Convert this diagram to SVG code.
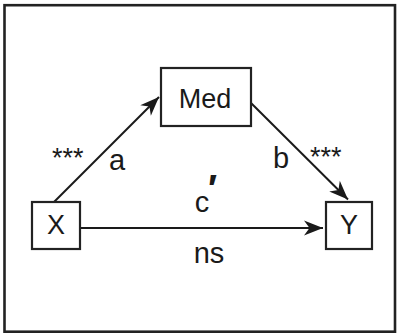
<svg xmlns="http://www.w3.org/2000/svg" width="397" height="333" viewBox="0 0 397 333">
<style>
.box{fill:#fff;stroke:#222;stroke-width:2.2}
.edge{stroke:#1a1a1a;stroke-width:2;fill:none}
.lbl{font-family:"Liberation Sans",Arial,sans-serif;fill:#1a1a1a}
.nl{font-size:27px;text-anchor:middle}
.el{font-size:29px;text-anchor:middle}
</style>
<defs>
<marker id="ah" markerUnits="userSpaceOnUse" markerWidth="24" markerHeight="20" viewBox="-20 -10 24 20" refX="0" refY="0" orient="auto">
<path d="M0,0 L-19,-7.5 L-13.5,0 L-19,7.5 Z" fill="#1a1a1a"/>
</marker>
</defs>
<rect x="4.5" y="5.2" width="390.5" height="326.5" fill="#fff" stroke="#222" stroke-width="2.6"/>
<g id="connectors">
<line class="edge" x1="54" y1="202" x2="159" y2="97" marker-end="url(#ah)"/>
<line class="edge" x1="251" y1="103" x2="348" y2="199.5" marker-end="url(#ah)"/>
<line class="edge" x1="80" y1="228" x2="323" y2="228" marker-end="url(#ah)"/>
</g>
<g id="node-med">
<rect class="box" x="161" y="68" width="90" height="58"/>
<text class="lbl nl" x="205" y="107.5">Med</text>
</g>
<g id="node-x">
<rect class="box" x="32" y="202" width="48" height="47"/>
<text class="lbl nl" x="56" y="234">X</text>
</g>
<g id="node-y">
<rect class="box" x="326" y="202" width="46" height="47"/>
<text class="lbl nl" x="349" y="234">Y</text>
</g>
<g id="labels">
<text class="lbl" x="52" y="167" font-size="27">***</text>
<text class="lbl el" x="117" y="170">a</text>
<text class="lbl el" x="281" y="168">b</text>
<text class="lbl" x="310" y="166" font-size="27">***</text>
<text class="lbl el" x="202" y="212">c</text>
<text class="lbl" x="208" y="202" font-size="38" font-weight="bold">′</text>
<text class="lbl el" x="209" y="263">ns</text>
</g>
</svg>
